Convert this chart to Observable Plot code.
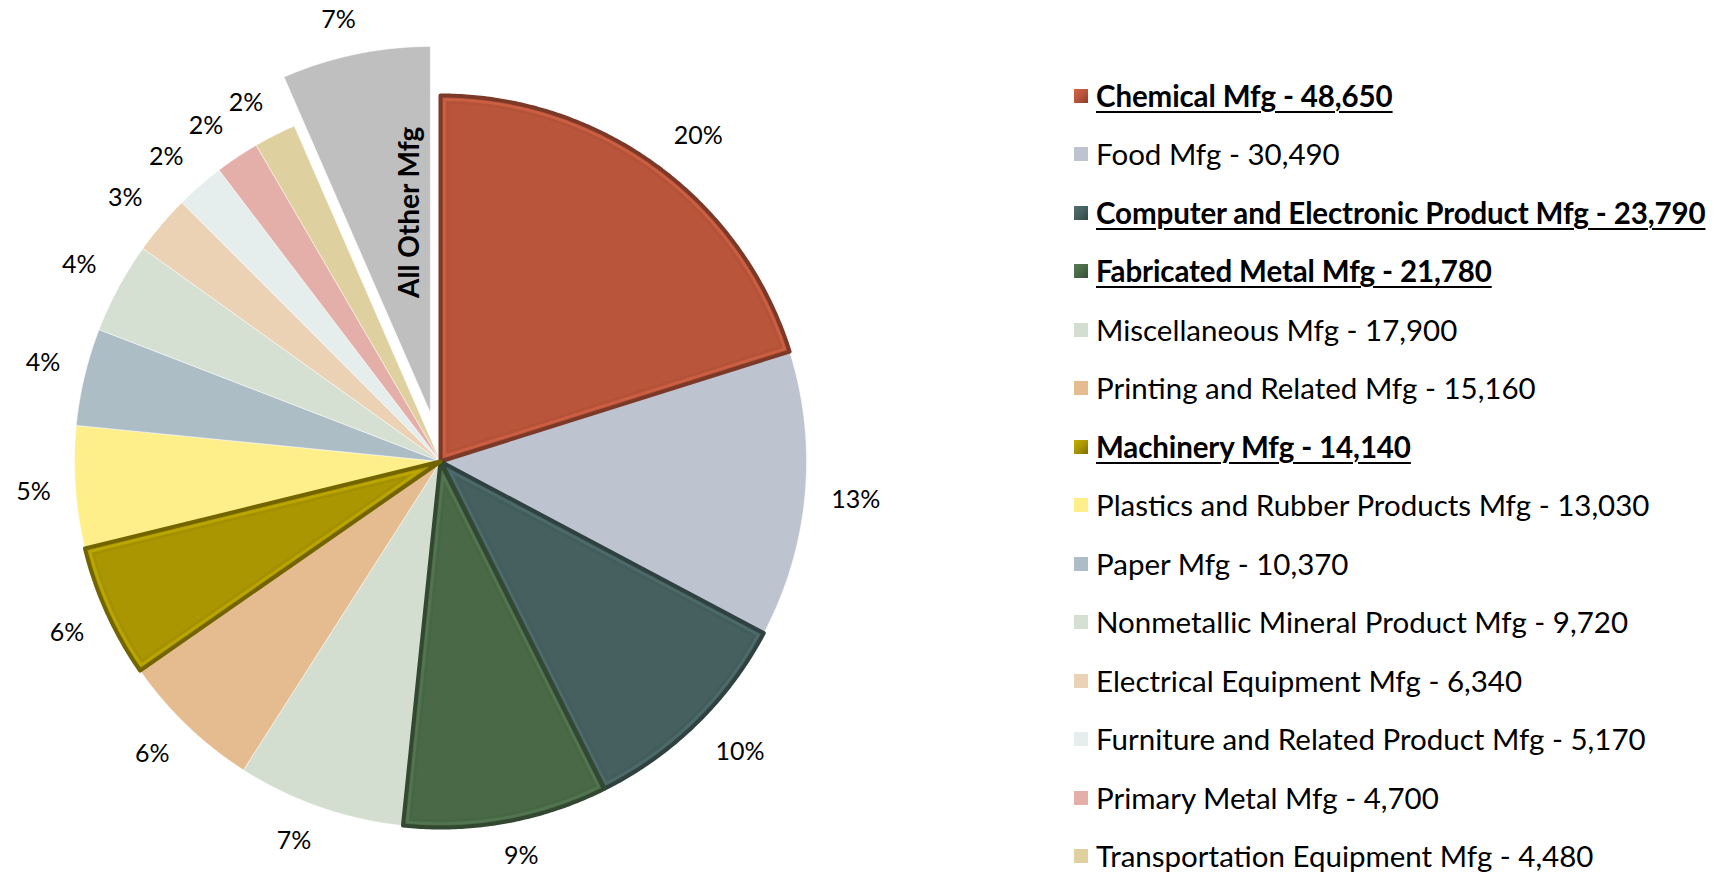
<!DOCTYPE html>
<html><head><meta charset="utf-8">
<script src="https://cdn.jsdelivr.net/npm/d3@7"></script>
<script src="https://cdn.jsdelivr.net/npm/@observablehq/plot@0.6"></script>
<style>
html,body{margin:0;padding:0;background:#fff;}
#wrap{position:relative;width:1718px;height:874px;overflow:hidden;font-family:Lato,"Open Sans",sans-serif;}
#chart{position:absolute;left:0;top:0;}
.item{position:absolute;left:1074px;height:36px;display:flex;align-items:center;white-space:nowrap;}
.sw{width:14px;height:14px;margin-right:8px;box-sizing:border-box;flex:none;}
.lbl{font-size:29.5px;line-height:34px;color:#000;display:inline-block;}
.lbl.hl{font-weight:bold;letter-spacing:-0.12px;text-decoration:underline;text-decoration-thickness:2px;text-underline-offset:4px;}
</style></head>
<body><div id="wrap"><div id="chart"></div><div id="legend"></div></div>
<script>
// ---- data ----
const categories = ["Chemical Mfg","Food Mfg","Computer and Electronic Product Mfg","Fabricated Metal Mfg","Miscellaneous Mfg","Printing and Related Mfg","Machinery Mfg","Plastics and Rubber Products Mfg","Paper Mfg","Nonmetallic Mineral Product Mfg","Electrical Equipment Mfg","Furniture and Related Product Mfg","Primary Metal Mfg","Transportation Equipment Mfg","All Other Mfg"];
const values = [48650,30490,23790,21780,17900,15160,14140,13030,10370,9720,6340,5170,4700,4480,15800];
const colors = ["#B9553B","#BEC3D0","#45605F","#4A6A47","#D3DED1","#E4BC90","#A99600","#FFEF8A","#ACBDC6","#D5DFD2","#EBD2B4","#E5EEED","#E4AEA9","#DFD09F","#BFBFBF"];
const highlighted = ["Chemical Mfg","Computer and Electronic Product Mfg","Fabricated Metal Mfg","Machinery Mfg"];
const explodedName = "All Other Mfg";
const legendNames = categories.slice(0, 14);

// ---- geometry ----
const W = 880, H = 874, CX = 440, CY = 461, R = 366, EXPLODE = 50, GAP = 24;
const data = categories.map((name, i) => ({name, value: values[i], color: colors[i]}));
const total = d3.sum(values);
const arcs = d3.pie().sort(null).value(d => d.value).startAngle(0).endAngle(2 * Math.PI)(data);

function offsetOf(a) {
  const mid = (a.startAngle + a.endAngle) / 2;
  const off = a.data.name === explodedName ? EXPLODE : 0;
  return [off * Math.sin(mid), off * Math.cos(mid)];
}
function wedge(a, inset = 0) {
  const [ox, oy] = offsetOf(a);
  const mid = (a.startAngle + a.endAngle) / 2, half = (a.endAngle - a.startAngle) / 2;
  const apexD = inset ? inset / Math.sin(half) : 0;
  const r = R - inset;
  const da = inset ? Math.asin(inset / r) : 0;
  const a0 = a.startAngle + da, a1 = a.endAngle - da;
  const pts = [{name: a.data.name, x: ox + apexD * Math.sin(mid), y: oy + apexD * Math.cos(mid)}];
  const n = Math.max(2, Math.ceil((a1 - a0) / 0.008));
  for (let k = 0; k <= n; k++) {
    const t = a0 + (a1 - a0) * k / n;
    pts.push({name: a.data.name, x: ox + r * Math.sin(t), y: oy + r * Math.cos(t)});
  }
  pts.push({...pts[0]});
  return pts;
}
const clamp = v => Math.max(-1, Math.min(1, v / 0.3));
const slicePts = arcs.flatMap(a => wedge(a));
const labels = arcs.map(a => {
  const [ox, oy] = offsetOf(a);
  const mid = (a.startAngle + a.endAngle) / 2;
  const text = Math.round(a.data.value / total * 100) + "%";
  const hw = text.length * 9, hh = 11;
  const s = Math.sin(mid), c = Math.cos(mid);
  return {x: ox + (R + GAP) * s + hw * clamp(s), y: oy + (R + GAP) * c + hh * clamp(c), text};
});
const otherArc = arcs.find(a => a.data.name === explodedName);
const otherLabel = (() => {
  const [ox, oy] = offsetOf(otherArc);
  const ang = otherArc.endAngle - 0.1, r = R * 0.55;
  return [{x: ox + r * Math.sin(ang), y: oy + r * Math.cos(ang), text: explodedName}];
})();

const bevelMarks = arcs.filter(a => highlighted.includes(a.data.name)).flatMap(a => {
  const c = d3.color(a.data.color);
  return [
    Plot.line(wedge(a), {x: "x", y: "y", stroke: c.darker(1.1).formatHex(), strokeWidth: 4, strokeLinejoin: "round"}),
    Plot.line(wedge(a, 4), {x: "x", y: "y", stroke: c.brighter(0.5).formatHex(), strokeWidth: 2.5, strokeOpacity: 0.55, strokeLinejoin: "round"}),
    Plot.line(wedge(a, 7), {x: "x", y: "y", stroke: c.darker(0.3).formatHex(), strokeWidth: 2, strokeOpacity: 0.35, strokeLinejoin: "round"})
  ];
});

const chart = Plot.plot({
  width: W, height: H, margin: 0,
  style: {background: "transparent", overflow: "visible"},
  x: {domain: [-CX, W - CX], axis: null},
  y: {domain: [-(H - CY), CY], axis: null},
  color: {domain: categories, range: colors},
  marks: [
    Plot.line(slicePts, {x: "x", y: "y", z: "name", fill: "name", stroke: "#ffffff", strokeWidth: 0.7, strokeOpacity: 0.7}),
    ...bevelMarks,
    Plot.text(labels, {x: "x", y: "y", text: "text", fontSize: 25, fontFamily: "Lato, sans-serif", fill: "#000"}),
    Plot.text(otherLabel, {x: "x", y: "y", text: "text", rotate: -90, fontSize: 28, fontWeight: "bold", fontFamily: "Lato, sans-serif", fill: "#000"})
  ]
});
document.getElementById("chart").append(chart);

// ---- legend ----
const legend = d3.select("#legend");
const fmt = d3.format(",");
legendNames.forEach((name, i) => {
  const d = data.find(e => e.name === name);
  const hl = highlighted.includes(name);
  const top = 95.5 + i * 58.5 - 18;
  const item = legend.append("div").attr("class", "item").style("top", top + "px");
  const c = d3.color(d.color);
  item.append("div").attr("class", "sw")
    .style("background", hl ? `linear-gradient(135deg, ${c.brighter(0.4)} 0%, ${d.color} 50%, ${c.darker(0.9)} 100%)` : d.color);
  item.append("span").attr("class", "lbl" + (hl ? " hl" : "")).text(`${name} - ${fmt(d.value)}`);
});
</script>
</body></html>
